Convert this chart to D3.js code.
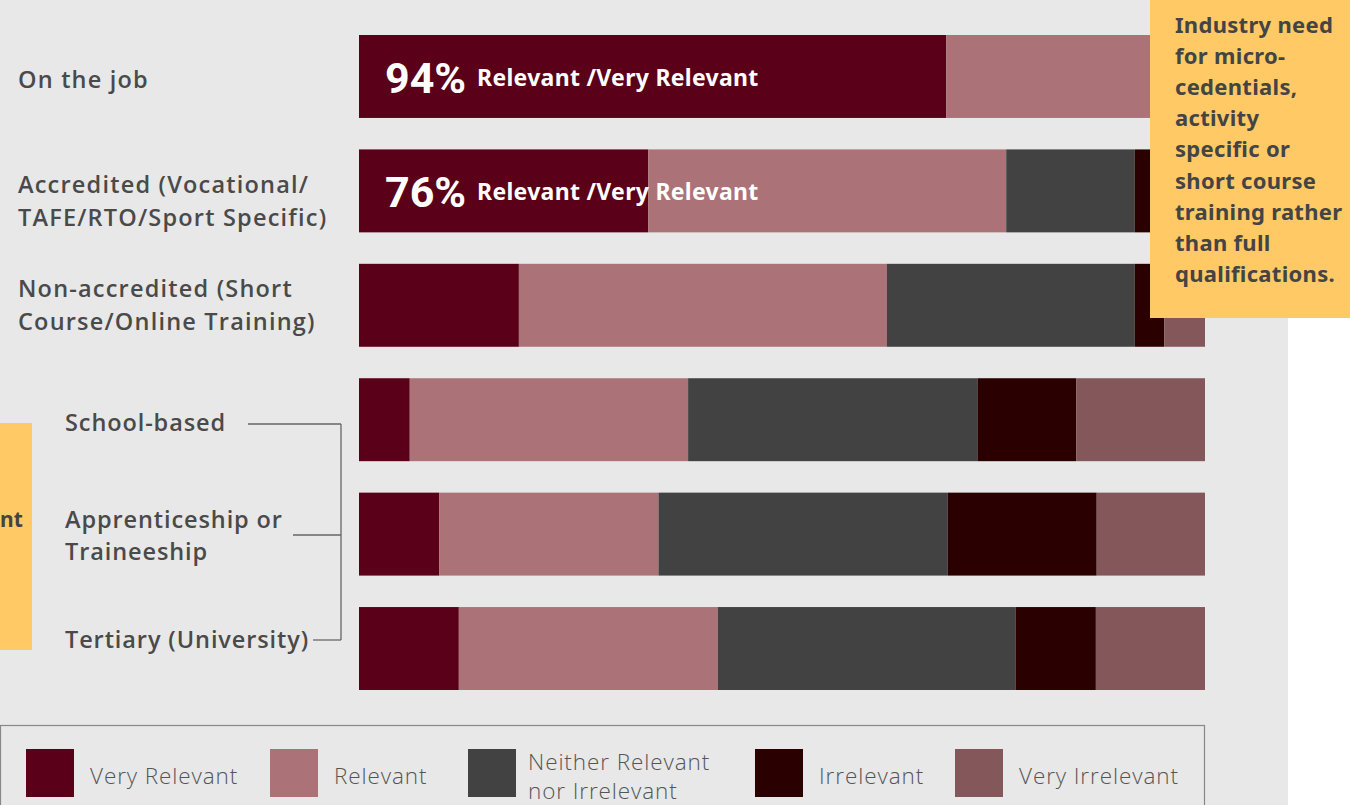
<!DOCTYPE html>
<html><head><meta charset="utf-8">
<script src="https://cdn.jsdelivr.net/npm/d3@7"></script>
<style>html,body{margin:0;padding:0;background:#fff;overflow:hidden}</style>
</head><body>
<svg id="c" width="1350" height="805"></svg>
<script>
const categories = ["On the job","Accredited","Non-accredited","School-based","Apprenticeship or Traineeship","Tertiary (University)"];
const seriesNames = ["Very Relevant","Relevant","Neither Relevant nor Irrelevant","Irrelevant","Very Irrelevant"];
const veryRelevant   = [69.4, 34.2, 18.9,  6.0,  9.5, 11.8];
const relevant       = [24.6, 42.3, 43.5, 32.9, 25.9, 30.6];
const neither        = [ 4.0, 15.2, 29.3, 34.2, 34.2, 35.2];
const irrelevant     = [ 1.0,  3.5,  3.5, 11.7, 17.6,  9.5];
const veryIrrelevant = [ 1.0,  4.8,  4.8, 15.2, 12.8, 12.9];
const colors = ["#5a0018","#ab7277","#424242","#2a0000","#84575a"];
const highlightPct = ["94%","76%"];
const highlightText = "Relevant /Very Relevant";
const topLabels = [["On the job"],["Accredited (Vocational/","TAFE/RTO/Sport Specific)"],["Non-accredited (Short","Course/Online Training)"]];
const bracketLabels = [["School-based"],["Apprenticeship or","Traineeship"],["Tertiary (University)"]];
const noteLines = ["Industry need","for micro-","cedentials,","activity","specific or","short course","training rather","than full","qualifications."];
const legendLabels = [["Very Relevant"],["Relevant"],["Neither Relevant","nor Irrelevant"],["Irrelevant"],["Very Irrelevant"]];

const svg = d3.select("#c");
svg.append("rect").attr("x",0).attr("y",0).attr("width",1288).attr("height",805).attr("fill","#e8e8e8");

const x = d3.scaleLinear().domain([0,100]).range([359,1205]);
const y = d3.scaleBand().domain(categories).range([35,690]).paddingInner(0.275).paddingOuter(0);

const table = categories.map((c,i)=>({cat:c, s0:veryRelevant[i], s1:relevant[i], s2:neither[i], s3:irrelevant[i], s4:veryIrrelevant[i]}));
const stack = d3.stack().keys(["s0","s1","s2","s3","s4"])(table);

svg.append("g").selectAll("g").data(stack).join("g")
  .attr("fill",(d,i)=>colors[i])
  .selectAll("rect").data(d=>d).join("rect")
  .attr("x",d=>x(d[0])).attr("y",d=>y(d.data.cat))
  .attr("width",d=>x(d[1])-x(d[0])).attr("height",y.bandwidth());

// highlight labels
highlightPct.forEach((p,i)=>{
  const top = y(categories[i]);
  svg.append("text").attr("x",385).attr("y",top+58).text(p)
    .attr("font-family","Roboto, sans-serif").attr("font-weight",700).attr("font-size",43).attr("fill","#fff");
  svg.append("text").attr("x",477).attr("y",top+51).text(highlightText)
    .attr("font-family","'Noto Sans', sans-serif").attr("font-weight",700).attr("font-size",23).attr("letter-spacing",0.3).attr("fill","#fff");
});

const labFont = "'Open Sans', sans-serif";
const labStyle = (t,ls) => t.attr("font-family",labFont).attr("font-weight",600).attr("font-size",23.5).attr("letter-spacing",ls).attr("fill","#4a4a4a");
// top labels
const topBase = [[88],[193,226],[297,330]];
topLabels.forEach((lines,i)=>{
  const t = labStyle(svg.append("text"),1.2);
  lines.forEach((l,j)=>t.append("tspan").attr("x",18).attr("y",topBase[i][j]).text(l));
});

// bracket labels
const bracketY = [424, 535, 640];
const lineStart = [248, 293, 311];
const labelBase = [[431],[528,560],[648]];
bracketLabels.forEach((lines,i)=>{
  const t = labStyle(svg.append("text"),0.9);
  lines.forEach((l,j)=>t.append("tspan").attr("x",65).attr("y",labelBase[i][j]).text(l));
  const bb = t.node().getBBox();
  const xs = Math.max(lineStart[i], bb.x + bb.width + 4);
  svg.append("line").attr("x1",xs).attr("x2",341).attr("y1",bracketY[i]).attr("y2",bracketY[i])
    .attr("stroke","#666").attr("stroke-width",1.3);
});
svg.append("line").attr("x1",341).attr("x2",341).attr("y1",bracketY[0]).attr("y2",bracketY[2])
  .attr("stroke","#666").attr("stroke-width",1.3);

// left yellow box (cropped in the original)
svg.append("rect").attr("x",0).attr("y",423).attr("width",32).attr("height",227).attr("fill","#ffc966");
svg.append("text").attr("x",0).attr("y",527).text("nt")
  .attr("font-family","'Noto Sans', sans-serif").attr("font-weight",700).attr("font-size",21).attr("fill","#444");

// right note box
svg.append("rect").attr("x",1150).attr("y",0).attr("width",200).attr("height",318).attr("fill","#ffc966");
const nt = svg.append("text").attr("font-family","'Noto Sans', sans-serif").attr("font-weight",700).attr("font-size",22).attr("letter-spacing",0.3).attr("fill","#444");
noteLines.forEach((l,j)=>nt.append("tspan").attr("x",1175).attr("y",33+j*31.1).text(l));

// legend
svg.append("rect").attr("x",0.5).attr("y",725.5).attr("width",1204).attr("height",100).attr("fill","none").attr("stroke","#888").attr("stroke-width",1.2);
const legX = [26,270,468,755,955];
legendLabels.forEach((lines,i)=>{
  svg.append("rect").attr("x",legX[i]).attr("y",749).attr("width",48).attr("height",48).attr("fill",colors[i]);
  const t = svg.append("text").attr("font-family","'Open Sans', sans-serif").attr("font-weight",300).attr("font-size",22.5).attr("letter-spacing",0.9).attr("fill","#555");
  if(lines.length===1){
    t.append("tspan").attr("x",legX[i]+64).attr("y",784).text(lines[0]);
  } else {
    lines.forEach((l,j)=>t.append("tspan").attr("x",legX[i]+60).attr("y",770+j*29).text(l));
  }
});
</script>
</body></html>
